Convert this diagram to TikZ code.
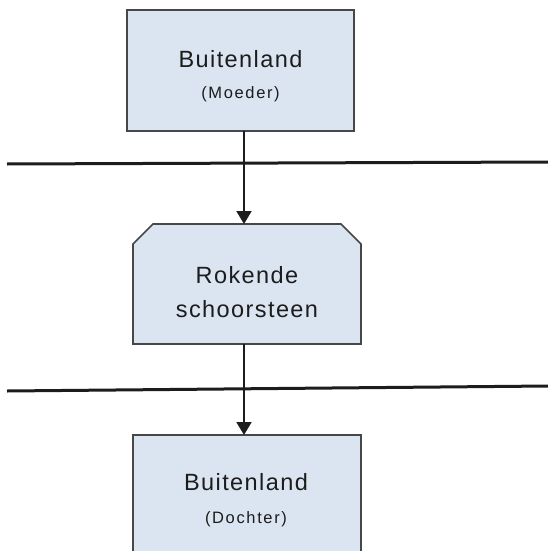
\documentclass[tikz,border=0pt]{standalone}
\usepackage{fontspec}
\usetikzlibrary{arrows.meta}
\newfontfamily\mainbf{Liberation Sans}[LetterSpace=6]
\newfontfamily\subbf{Liberation Sans}[LetterSpace=10]
\definecolor{boxfill}{HTML}{DBE5F1}
\definecolor{boxline}{HTML}{474747}
\definecolor{ink}{HTML}{1C1C1C}
\begin{document}
\begin{tikzpicture}[x=1pt,y=-1pt,
  entity/.style={draw=boxline,fill=boxfill,line width=1.6pt,inner sep=0pt,outer sep=0pt},
  ghost/.style={inner sep=0pt,outer sep=0pt},
  bigtxt/.style={anchor=base,inner sep=0pt,text=ink,font=\mainbf\fontsize{23.5}{28}\selectfont},
  smalltxt/.style={anchor=base,inner sep=0pt,text=ink,font=\subbf\fontsize{16.5}{20}\selectfont},
  border/.style={draw=ink,line width=3pt},
  flow/.style={draw=ink,line width=2pt,-{Triangle[width=15pt,length=13pt]}}]
\useasboundingbox (0,0) rectangle (548,551);
\clip (0,0) rectangle (548,551);
% top box
\node[entity,minimum width=227pt,minimum height=121pt] (moeder) at (240.5,70.5) {};
\node[bigtxt] (t1) at (240.5,67) {Buitenland};
\node[smalltxt] (t2) at (240.5,98) {(Moeder)};
% middle box (chamfered top corners)
\node[ghost,minimum width=228pt,minimum height=120pt] (schoor) at (247,284) {};
\draw[entity,line join=miter] (schoor.south west) -- ([yshift=-20pt]schoor.north west)
  -- ([xshift=20pt]schoor.north west) -- ([xshift=-20pt]schoor.north east)
  -- ([yshift=-20pt]schoor.north east) -- (schoor.south east) -- cycle;
\node[bigtxt] (t3) at (247,283) {Rokende};
\node[bigtxt] (t4) at (247,317) {schoorsteen};
% bottom box
\node[entity,minimum width=228pt,minimum height=140pt] (dochter) at (247,505) {};
\node[bigtxt] (t5) at (246,490) {Buitenland};
\node[smalltxt] (t6) at (246,523) {(Dochter)};
% border lines
\coordinate (b1l) at (7,164);
\coordinate (b1r) at (548,162);
\coordinate (b2l) at (7,391);
\coordinate (b2r) at (548,386);
\draw[border] (b1l) -- (b1r);
\draw[border] (b2l) -- (b2r);
% arrows
\draw[flow] (moeder.south -| 244,0) -- (schoor.north -| 244,0);
\draw[flow] (schoor.south -| 244,0) -- (dochter.north -| 244,0);
\end{tikzpicture}
\end{document}
